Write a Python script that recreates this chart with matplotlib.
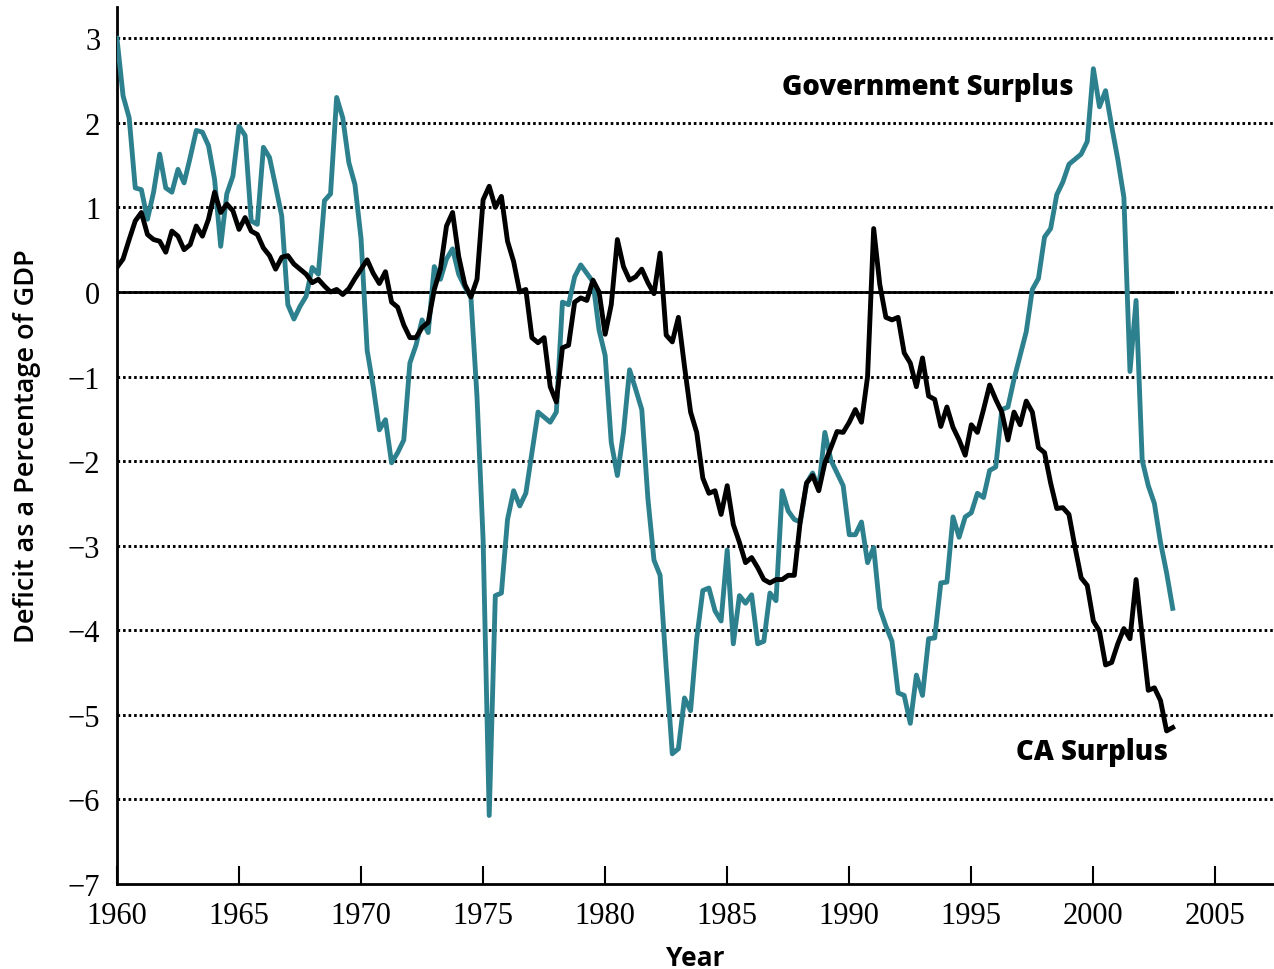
import numpy as np
import matplotlib
matplotlib.use("Agg")
import matplotlib.pyplot as plt

# quarterly, 1960Q1 .. 2003Q2 (percent of GDP)
gov_surplus = [
    3.0, 2.32, 2.06, 1.23, 1.21, 0.86, 1.18, 1.63, 1.23, 1.18,
    1.45, 1.29, 1.59, 1.91, 1.89, 1.73, 1.33, 0.54, 1.16, 1.37,
    1.96, 1.85, 0.84, 0.80, 1.71, 1.59, 1.25, 0.90, -0.15, -0.32,
    -0.17, -0.05, 0.29, 0.21, 1.08, 1.16, 2.30, 2.06,
    1.53, 1.27, 0.63, -0.69, -1.12, -1.63, -1.51, -2.02, -1.90, -1.75,
    -0.84, -0.63, -0.33, -0.48, 0.30, 0.15, 0.39, 0.51, 0.21, 0.06,
    -0.06, -1.24, -2.93, -6.19, -3.59, -3.56, -2.69, -2.35, -2.53, -2.38,
    -1.90, -1.42, -1.48, -1.54, -1.42, -0.12, -0.15,
    0.18, 0.32, 0.22, 0.12, -0.45, -0.75, -1.78, -2.17, -1.66, -0.92,
    -1.15, -1.39, -2.44, -3.17, -3.35, -4.44, -5.46, -5.40, -4.80, -4.95,
    -4.10, -3.53, -3.50, -3.77, -3.89, -3.05, -4.16, -3.59, -3.68, -3.58,
    -4.16, -4.13, -3.56, -3.65, -2.35, -2.59, -2.69,
    -2.72, -2.26, -2.14, -2.32, -1.66, -1.99, -2.14, -2.29, -2.87, -2.87,
    -2.72, -3.20, -3.02, -3.74, -3.95, -4.13, -4.74, -4.77, -5.10, -4.53,
    -4.77, -4.10, -4.09, -3.44, -3.43, -2.66, -2.90, -2.66, -2.61, -2.38,
    -2.43, -2.11, -2.07, -1.39, -1.36, -1.03, -0.75, -0.47,
    0.03, 0.16, 0.65, 0.75, 1.15, 1.30, 1.51, 1.57, 1.63, 1.78,
    2.64, 2.19, 2.38, 1.96, 1.57, 1.12, -0.94, -0.10, -1.99, -2.29,
    -2.50, -2.96, -3.32, -3.74,
]
ca_surplus = [
    0.29, 0.39, 0.62, 0.84, 0.94, 0.68, 0.62, 0.60, 0.47, 0.72,
    0.66, 0.50, 0.56, 0.78, 0.66, 0.86, 1.18, 0.94, 1.04, 0.96,
    0.74, 0.88, 0.72, 0.68, 0.52, 0.43, 0.27, 0.41, 0.43, 0.33,
    0.27, 0.21, 0.11, 0.15, 0.07, 0.0, 0.03, -0.03,
    0.04, 0.16, 0.27, 0.38, 0.22, 0.10, 0.24, -0.12, -0.18, -0.39,
    -0.54, -0.54, -0.42, -0.36, 0.03, 0.27, 0.78, 0.94, 0.42, 0.09,
    -0.06, 0.15, 1.09, 1.25, 1.00, 1.13, 0.60, 0.36, 0.0, 0.03,
    -0.54, -0.60, -0.54, -1.12, -1.30, -0.66, -0.63,
    -0.12, -0.07, -0.10, 0.14, 0.0, -0.50, -0.15, 0.62, 0.30, 0.14,
    0.18, 0.27, 0.11, -0.02, 0.46, -0.51, -0.59, -0.30, -0.88, -1.42,
    -1.66, -2.20, -2.38, -2.35, -2.63, -2.29, -2.75, -2.96, -3.20, -3.14,
    -3.26, -3.40, -3.44, -3.40, -3.40, -3.35, -3.35,
    -2.69, -2.26, -2.17, -2.35, -2.02, -1.84, -1.65, -1.66, -1.54, -1.39,
    -1.54, -1.00, 0.75, 0.09, -0.30, -0.33, -0.30, -0.72, -0.84, -1.12,
    -0.78, -1.23, -1.27, -1.59, -1.36, -1.60, -1.75, -1.93, -1.57, -1.66,
    -1.39, -1.10, -1.27, -1.42, -1.75, -1.42, -1.57, -1.29,
    -1.42, -1.84, -1.90, -2.26, -2.56, -2.55, -2.63, -3.02, -3.38, -3.47,
    -3.89, -4.01, -4.41, -4.38, -4.16, -3.98, -4.10, -3.40, -4.07, -4.71,
    -4.68, -4.83, -5.19, -5.15,
]
year_ticks = [1960, 1965, 1970, 1975, 1980, 1985, 1990, 1995, 2000, 2005]
value_ticks = [-7, -6, -5, -4, -3, -2, -1, 0, 1, 2, 3]

quarters = 1960 + np.arange(len(gov_surplus)) / 4.0

TEAL = "#2d818e"
tick_font = "Liberation Serif"
label_font = "Open Sans"

fig = plt.figure(figsize=(12.74, 9.70), dpi=100)
ax = fig.add_axes([0.0918, 0.0876, 0.9082, 0.9042])

# dotted grid lines
for v in value_ticks[1:]:
    ax.axhline(v, color="black", lw=2.1, ls=(0, (0.9, 1.0)), zorder=1)
# solid zero line over the data span
ax.plot([quarters[0], quarters[-1]], [0, 0], color="black", lw=2.0, zorder=2)

ax.plot(quarters, gov_surplus, color=TEAL, lw=3.5, zorder=3)
ax.plot(quarters, ca_surplus, color="black", lw=3.5, zorder=4)

ax.set_xlim(1960, 2007.4)
ax.set_ylim(-7, 3.37)
ax.set_xticks(year_ticks)
ax.set_yticks(value_ticks)
ax.set_yticklabels([str(v).replace("-", "\u2212") for v in value_ticks])

for s in ["top", "right"]:
    ax.spines[s].set_visible(False)
for s in ["left", "bottom"]:
    ax.spines[s].set_linewidth(2.0)

ax.tick_params(axis="x", direction="in", length=13, width=1.5, pad=12)
ax.tick_params(axis="y", length=0, pad=12)
for lab in ax.get_xticklabels() + ax.get_yticklabels():
    lab.set_fontfamily(tick_font)
    lab.set_fontsize(22)

ax.set_xlabel("Year", family=label_font, fontsize=19, fontweight="bold", labelpad=10)
ax.set_ylabel("Deficit as a Percentage of GDP", family=label_font, fontsize=19.5,
              fontweight="semibold", labelpad=19)

ax.text(1987.26, 2.43, "Government Surplus", family=label_font, fontsize=19.8,
        fontweight="heavy", ha="left", va="center")
ax.text(2003.07, -5.43, "CA Surplus", family=label_font, fontsize=19.8,
        fontweight="heavy", ha="right", va="center")

fig.savefig("out.png", dpi=100)
